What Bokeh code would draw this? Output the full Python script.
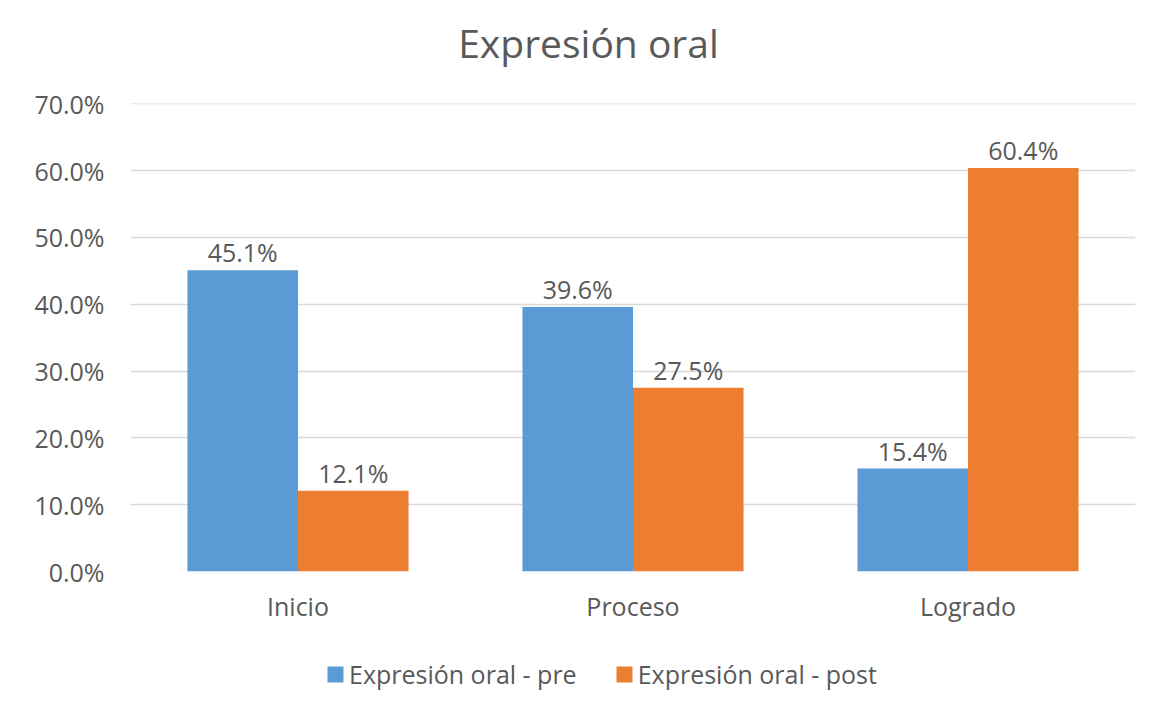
from bokeh.plotting import figure
from bokeh.layouts import column
from bokeh.models import (ColumnDataSource, FactorRange, Range1d, FixedTicker,
                          NumeralTickFormatter, LabelSet, Label, Legend, LegendItem)
from bokeh.core.properties import value
from bokeh.transform import dodge
from bokeh.embed import file_html
from bokeh.resources import INLINE

title_text = "Expresión oral"
categories = ["Inicio", "Proceso", "Logrado"]
pre = [0.451, 0.396, 0.154]
post = [0.121, 0.275, 0.604]
series_names = ["Expresión oral - pre", "Expresión oral - post"]
y_ticks = [0.0, 0.1, 0.2, 0.3, 0.4, 0.5, 0.6, 0.7]

FONT = "Open Sans"
TXT = "#595959"
BLUE = "#5B9BD5"
ORANGE = "#ED7D31"
LEFT, FRAME_W, RIGHT = 130, 1005, 8


def strip(height, x_range, y_range):
    f = figure(frame_width=FRAME_W, frame_height=height, x_range=x_range, y_range=y_range,
               output_backend="svg", toolbar_location=None,
               min_border_left=LEFT, min_border_right=RIGHT,
               min_border_top=0, min_border_bottom=0,
               x_axis_type=None, y_axis_type=None)
    f.outline_line_color = None
    f.grid.visible = False
    return f


src = ColumnDataSource(dict(
    cat=categories, pre=pre, post=post,
    pre_lbl=[f"{v*100:.1f}%" for v in pre],
    post_lbl=[f"{v*100:.1f}%" for v in post],
))
w = 0.33

# ---- title strip (x in page pixels over the frame span)
header = strip(83, Range1d(LEFT, LEFT + FRAME_W), Range1d(83, 0))
header.add_layout(Label(x=588, y=42, text=title_text, text_align="center",
                        text_baseline="middle", text_font=FONT, text_font_size="39px",
                        text_color=TXT))

# ---- main chart
p = figure(x_range=FactorRange(*categories, range_padding=0),
           y_range=Range1d(0, 0.7005),
           frame_width=FRAME_W, frame_height=468,
           output_backend="svg", toolbar_location=None,
           min_border_left=LEFT, min_border_right=RIGHT,
           min_border_top=20, min_border_bottom=60)

r1 = p.vbar(x=dodge("cat", -w / 2, range=p.x_range), top="pre", width=w,
            source=src, fill_color=BLUE, line_color=None)
r2 = p.vbar(x=dodge("cat", w / 2, range=p.x_range), top="post", width=w,
            source=src, fill_color=ORANGE, line_color=None)

for col, lbl, off in (("pre", "pre_lbl", -w / 2), ("post", "post_lbl", w / 2)):
    p.add_layout(LabelSet(x=dodge("cat", off, range=p.x_range), y=col, text=lbl,
                          source=src, text_align="center", text_baseline="bottom",
                          y_offset=1, text_font=value(FONT), text_font_size="25px",
                          text_color=TXT))

p.outline_line_color = None
p.xgrid.grid_line_color = None
p.ygrid.grid_line_color = "#D9D9D9"
p.ygrid.grid_line_width = 1.5

p.yaxis.ticker = FixedTicker(ticks=y_ticks)
p.yaxis.formatter = NumeralTickFormatter(format="0.0%")
p.yaxis.axis_line_color = None
p.yaxis.major_tick_line_color = None
p.yaxis.minor_tick_line_color = None
p.yaxis.major_label_standoff = 20
p.yaxis.major_label_text_font = FONT
p.yaxis.major_label_text_font_size = "25px"
p.yaxis.major_label_text_color = TXT

p.xaxis.axis_line_color = None
p.xaxis.major_tick_line_color = None
p.xaxis.minor_tick_line_color = None
p.xaxis.major_label_standoff = 11
p.xaxis.major_label_text_font = FONT
p.xaxis.major_label_text_font_size = "25px"
p.xaxis.major_label_text_color = TXT

# ---- legend strip (same series drawn out of view, only for the legend keys)
leg = strip(75, FactorRange(*categories, range_padding=0), Range1d(1, 2))
k1 = leg.vbar(x=dodge("cat", -w / 2, range=leg.x_range), top="pre", width=w,
              source=src, fill_color=BLUE, line_color=None)
k2 = leg.vbar(x=dodge("cat", w / 2, range=leg.x_range), top="post", width=w,
              source=src, fill_color=ORANGE, line_color=None)
legend = Legend(items=[LegendItem(label=series_names[0], renderers=[k1]),
                       LegendItem(label=series_names[1], renderers=[k2])],
                orientation="horizontal", location=(195, 15),
                glyph_width=20, glyph_height=20, label_standoff=4, spacing=37,
                padding=0, margin=0, border_line_color=None,
                background_fill_alpha=0,
                label_text_font=FONT, label_text_font_size="25px",
                label_text_color=TXT)
leg.add_layout(legend, "center")

open("out.html", "w").write(file_html(column(header, p, leg, spacing=0), INLINE))
